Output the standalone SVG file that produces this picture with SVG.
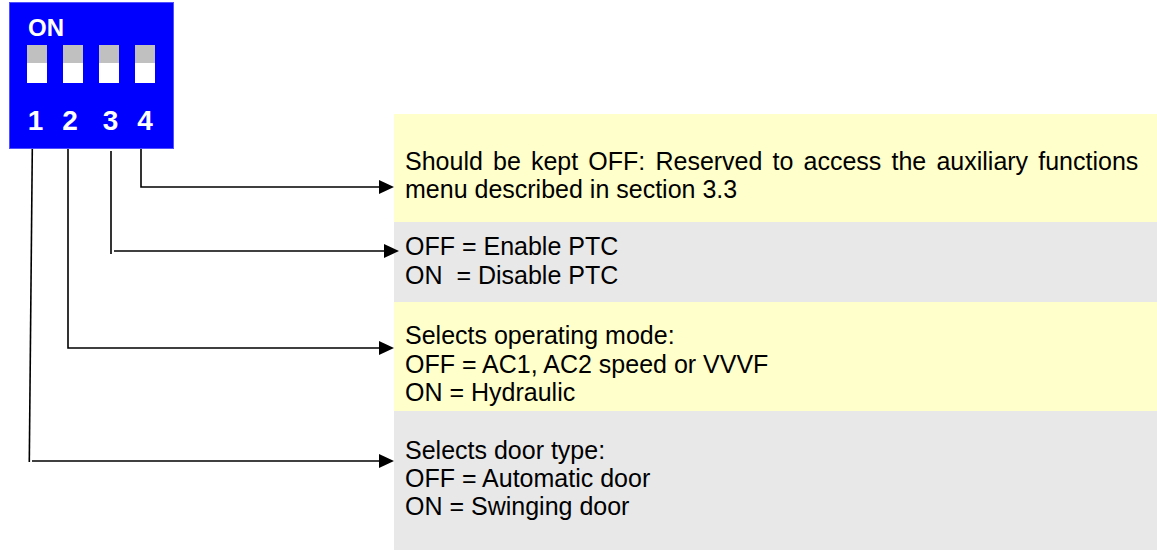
<svg xmlns="http://www.w3.org/2000/svg" width="1157" height="552" viewBox="0 0 1157 552">
  <style>
    .note { fill: #000; font-family: "Liberation Sans", Arial, sans-serif; font-size: 25px; white-space: pre; }
    .dip-label { fill: #fff; font-family: "Liberation Sans", Arial, sans-serif; font-weight: bold; }
    .wire { fill: none; stroke: #000; stroke-width: 1.6; }
    .yellow { fill: #ffffcc; }
    .grey { fill: #e8e8e8; }
    .lever-top { fill: #c0c0c0; }
    .lever-bottom { fill: #fff; }
  </style>
  <defs>
    <marker id="arrow" markerUnits="userSpaceOnUse" markerWidth="15" markerHeight="14" refX="7" refY="7" orient="auto">
      <path d="M0,0 L15,7 L0,14 z" fill="#000"/>
    </marker>
  </defs>

  <rect width="1157" height="552" fill="#fff"/>

  <!-- DIP switch block -->
  <g id="dip-switch">
    <rect x="9.5" y="2.5" width="164" height="146" fill="#0000ff" stroke="#5050ff" stroke-width="1"/>
    <text class="dip-label" x="28" y="35.5" font-size="24">ON</text>
    <rect class="lever-top" x="27" y="45" width="20" height="18"/>
    <rect class="lever-bottom" x="27" y="63" width="20" height="20"/>
    <rect class="lever-top" x="63" y="45" width="20" height="18"/>
    <rect class="lever-bottom" x="63" y="63" width="20" height="20"/>
    <rect class="lever-top" x="99" y="45" width="20" height="18"/>
    <rect class="lever-bottom" x="99" y="63" width="20" height="20"/>
    <rect class="lever-top" x="135" y="45" width="20" height="18"/>
    <rect class="lever-bottom" x="135" y="63" width="20" height="20"/>
    <g font-size="28" text-anchor="middle">
      <text class="dip-label" x="35.5" y="130">1</text>
      <text class="dip-label" x="70" y="130">2</text>
      <text class="dip-label" x="110.5" y="130">3</text>
      <text class="dip-label" x="145" y="130">4</text>
    </g>
  </g>

  <!-- Description panels -->
  <g id="note-4">
    <rect class="yellow" x="394" y="114" width="763" height="108"/>
    <text class="note" x="405" y="169.5" style="white-space: normal" word-spacing="3.2">Should be kept OFF: Reserved to access the auxiliary functions</text>
    <text class="note" x="405" y="197.5">menu described in section 3.3</text>
  </g>

  <g id="note-3">
    <rect class="grey" x="394" y="222" width="763" height="80"/>
    <text class="note" x="405" y="255">OFF = Enable PTC</text>
    <text class="note" x="405" y="283.5">ON  = Disable PTC</text>
  </g>

  <g id="note-2">
    <rect class="yellow" x="394" y="302" width="763" height="109"/>
    <text class="note" x="405" y="344">Selects operating mode:</text>
    <text class="note" x="405" y="372.5">OFF = AC1, AC2 speed or VVVF</text>
    <text class="note" x="405" y="400.5">ON = Hydraulic</text>
  </g>

  <g id="note-1">
    <rect class="grey" x="394" y="411" width="763" height="139"/>
    <text class="note" x="405" y="458.5">Selects door type:</text>
    <text class="note" x="405" y="486.5">OFF = Automatic door</text>
    <text class="note" x="405" y="515">ON = Swinging door</text>
  </g>

  <!-- Connectors from switch pins to panels -->
  <g id="connectors">
    <path class="wire" d="M141,149 V187 H386" marker-end="url(#arrow)"/>
    <path class="wire" d="M111,151 V254"/>
    <path class="wire" d="M114,251 H391" marker-end="url(#arrow)"/>
    <path class="wire" d="M68,149 V348 H386" marker-end="url(#arrow)"/>
    <path class="wire" d="M32.3,149 L29.3,462"/>
    <path class="wire" d="M32,461 H386" marker-end="url(#arrow)"/>
  </g>
</svg>
